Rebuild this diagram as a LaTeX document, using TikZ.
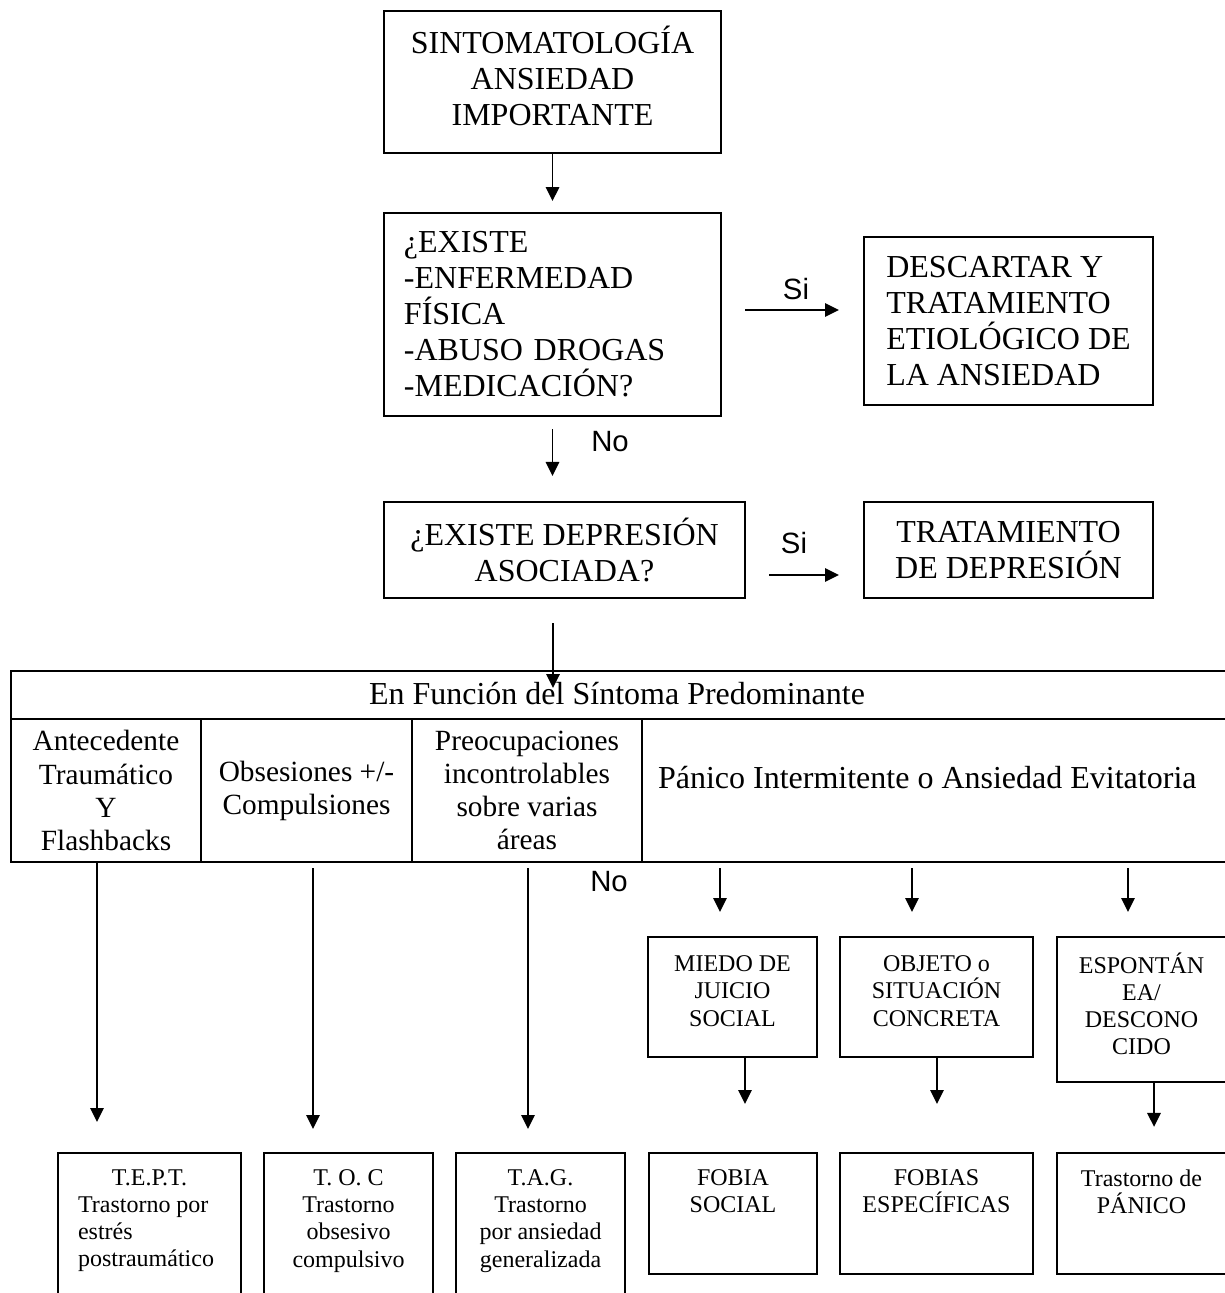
\documentclass[tikz,border=0pt]{standalone}
\usepackage{fontspec}
\setmainfont{Liberation Serif}
\newfontfamily\arialfont{Liberation Sans}
\usetikzlibrary{arrows.meta}

\begin{document}
\begin{tikzpicture}[x=0.375pt,y=-0.375pt]
\tikzstyle{every node}+=[inner sep=0pt]
\tikzstyle{box}=[draw, line width=0.8pt, font=\fontsize{12}{13.5}\selectfont, align=center]
\tikzstyle{cell}=[draw, line width=0.8pt, font=\fontsize{11}{12.4}\selectfont, align=center, minimum height=53.6pt]
\tikzstyle{small}=[draw, line width=0.8pt, font=\fontsize{9}{10.2}\selectfont, align=center]
\tikzstyle{lowtxt}=[font=\fontsize{9}{10.2}\selectfont, align=center, anchor=north, yshift=-6.4pt]
\tikzstyle{tag}=[font=\arialfont\fontsize{11}{13}\selectfont]
\tikzstyle{arr}=[line width=0.7pt, -{Triangle[length=5.2pt,width=5pt]}]
\useasboundingbox (0,0) rectangle (1224,1293);
\node[box, minimum width=126.4pt, minimum height=53.25pt, text depth=4.5pt] (sint) at (552.5,82) {SINTOMATOLOGÍA\\ANSIEDAD\\IMPORTANTE};
\node[box, align=left, text width=111.4pt, inner xsep=7.5pt, minimum height=76.1pt] (fis) at (552.5,314.5) {¿EXISTE\\-ENFERMEDAD\\FÍSICA\\-ABUSO DROGAS\\-MEDICACIÓN?};
\node[box, align=left, minimum width=108.4pt, minimum height=63pt] (desc) at (1008.5,321) {DESCARTAR Y\\TRATAMIENTO\\ETIOLÓGICO DE\\LA ANSIEDAD};
\node[box, minimum width=135.4pt, minimum height=36pt] (dep) at (564.5,550) {¿EXISTE DEPRESIÓN\\ASOCIADA?};
\node[box, minimum width=108.4pt, minimum height=36pt] (trat) at (1008.5,550) {TRATAMIENTO\\DE DEPRESIÓN};
\node[draw, line width=0.8pt, minimum width=460.9pt, minimum height=18pt] (head) at (625.5,695) {};
\node[font=\fontsize{12}{14}\selectfont] (headtxt) at (617,694) {En Función del Síntoma Predominante};
\node[cell, minimum width=71.25pt] (c1) at (106,790.5) {Antecedente\\Traumático\\Y\\Flashbacks};
\node[cell, minimum width=79.1pt] (c2) at (306.5,790.5) {Obsesiones +/-\\Compulsiones};
\node[cell, minimum width=86.25pt] (c3) at (527,790.5) {Preocupaciones\\incontrolables\\sobre varias\\áreas};
\node[cell, font=\fontsize{12}{14}\selectfont, align=flush left, text width=212.25pt, inner xsep=6pt, text depth=10pt] (c4) at (941,790.5) {Pánico Intermitente o Ansiedad Evitatoria};
\node[small, minimum width=63.4pt, minimum height=45pt, text depth=4.5pt] (m1) at (732.5,997) {MIEDO DE\\JUICIO\\SOCIAL};
\node[small, minimum width=72.4pt, minimum height=45pt, text depth=4.5pt] (m2) at (936.5,997) {OBJETO o\\SITUACIÓN\\CONCRETA};
\node[small, minimum width=63.4pt, minimum height=54.4pt, text depth=4.5pt] (m3) at (1141.5,1009.5) {ESPONTÁN\\EA/\\DESCONO\\CIDO};
\node[small, minimum width=68.6pt, minimum height=58.9pt, label={[lowtxt, align=left, name=b1t]north:{\makebox[53.6pt]{T.E.P.T.}\\Trastorno por\\estrés\\postraumático}}] (b1) at (149.5,1231.5) {};
\node[small, minimum width=63.4pt, minimum height=58.9pt, label={[lowtxt, name=b2t]north:{T. O. C\\Trastorno\\obsesivo\\compulsivo}}] (b2) at (348.5,1231.5) {};
\node[small, minimum width=63.4pt, minimum height=58.9pt, label={[lowtxt, name=b3t]north:{T.A.G.\\Trastorno\\por ansiedad\\generalizada}}] (b3) at (540.5,1231.5) {};
\node[small, minimum width=63pt, minimum height=45.4pt, label={[lowtxt, name=b4t]north:{FOBIA\\SOCIAL}}] (b4) at (733,1213.5) {};
\node[small, minimum width=72.4pt, minimum height=45.4pt, label={[lowtxt, name=b5t]north:{FOBIAS\\ESPECÍFICAS}}] (b5) at (936.5,1213.5) {};
\node[small, minimum width=63.4pt, minimum height=45.4pt, label={[lowtxt, name=b6t]north:{Trastorno de\\PÁNICO}}] (b6) at (1141.5,1213.5) {};
\coordinate (s1) at (796,310);
\coordinate (s2) at (796,575);
\coordinate (hd) at (553,688);
\coordinate (v1) at (97,0);
\coordinate (v2) at (313,0);
\coordinate (v3) at (528,0);
\coordinate (v4) at (720,0);
\coordinate (v5) at (912,0);
\coordinate (v6) at (1128,0);
\coordinate (v7) at (745,0);
\coordinate (v8) at (937,0);
\coordinate (v9) at (1154,0);
\draw[arr, shorten >=4.1pt] (sint) -- (fis);
\draw[arr, shorten <=8.6pt, shorten >=9pt] (fis.east |- s1) -- (desc.west |- s1);
\node[tag] (si1) at (796,289) {Si};
\draw[arr, shorten <=4.5pt, shorten >=9.4pt] (fis.south) -- (fis.south |- dep.north);
\node[tag] (no1) at (610,442) {No};
\draw[arr, shorten <=8.6pt, shorten >=9pt] (dep.east |- s2) -- (trat.west |- s2);
\node[tag] (si2) at (794,543) {Si};
\draw[arr, shorten <=9pt] (dep.south -| hd) -- (hd);
\draw[arr, shorten >=11.25pt] (c1.south -| v1) -- (b1.north -| v1);
\draw[arr, shorten <=1.9pt, shorten >=8.6pt] (c2.south -| v2) -- (b2.north -| v2);
\draw[arr, shorten <=1.9pt, shorten >=8.6pt] (c3.south -| v3) -- (b3.north -| v3);
\draw[arr, shorten <=1.9pt, shorten >=9pt] (c4.south -| v4) -- (m1.north -| v4);
\draw[arr, shorten <=1.9pt, shorten >=9pt] (c4.south -| v5) -- (m2.north -| v5);
\draw[arr, shorten <=1.9pt, shorten >=9pt] (c4.south -| v6) -- (m3.north -| v6);
\node[tag] (no2) at (609,882) {No};
\draw[arr, shorten >=18pt] (m1.south -| v7) -- (b4.north -| v7);
\draw[arr, shorten >=18pt] (m2.south -| v8) -- (b5.north -| v8);
\draw[arr, shorten >=9.4pt] (m3.south -| v9) -- (b6.north -| v9);
\end{tikzpicture}
\end{document}
